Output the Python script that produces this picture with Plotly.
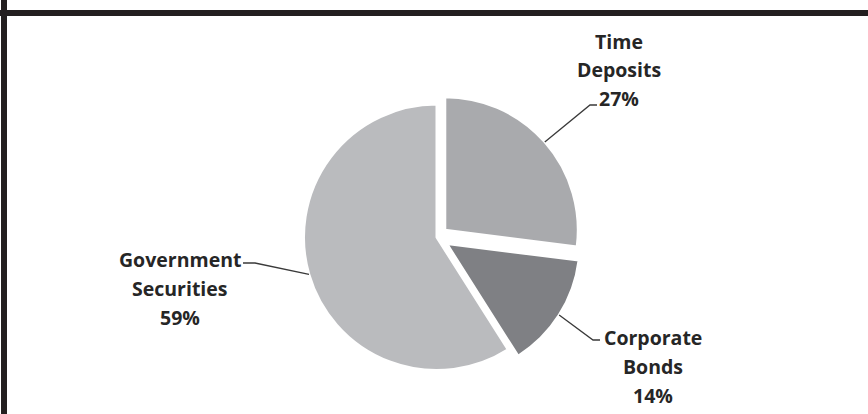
import math
import plotly.graph_objects as go

# ---- data ----
labels = ["Time Deposits", "Corporate Bonds", "Government Securities"]
label_lines = [["Time", "Deposits"], ["Corporate", "Bonds"], ["Government", "Securities"]]
values = [27, 14, 59]

# ---- style / layout constants ----
colors = ["#a9aaad", "#7f8084", "#babbbe"]
pulls = [0.083, 0.09, 0.0]
W, H = 868, 414
cx, cy, r = 436.75, 237.3, 133.0
label_mid = [(619, 70), (652.5, 366), (180, 288)]      # centre of middle text line (px)
elbows = [((590, 105), (597, 105)), ((593, 340), (600, 340)), ((255, 263), (243, 263))]
line_gap = 29
font = dict(family="Open Sans, sans-serif", size=19.5, color="#262626")

def px(x, y):
    return x / W, 1 - y / H

maxp = max(pulls)
box = r * (2 + 2 * maxp)
dom_x = [(cx - box / 2) / W, (cx + box / 2) / W]
dom_y = [1 - (cy + box / 2) / H, 1 - (cy - box / 2) / H]

fig = go.Figure(go.Pie(
    labels=labels, values=values, sort=False, direction="clockwise", rotation=0,
    pull=pulls, textinfo="none", hoverinfo="label+percent",
    marker=dict(colors=colors, line=dict(color="white", width=2.5)),
    domain=dict(x=dom_x, y=dom_y), showlegend=False,
))

shapes = []
annotations = []
total = sum(values)
cum = 0
for i, v in enumerate(values):
    theta = math.radians(360 * (cum + v / 2) / total)
    cum += v
    sx = cx + pulls[i] * r * math.sin(theta)
    sy = cy - pulls[i] * r * math.cos(theta)
    ax_, ay_ = sx + r * math.sin(theta), sy - r * math.cos(theta)
    (ex, ey), (tx, ty) = elbows[i]
    pts = [px(ax_, ay_), px(ex, ey), px(tx, ty)]
    path = "M {} {} L {} {} L {} {}".format(*[c for p in pts for c in p])
    shapes.append(dict(type="path", xref="paper", yref="paper", path=path,
                       line=dict(color="#3a3a3a", width=1.3)))
    lines = label_lines[i] + [f"{v}%"]
    mx, my = label_mid[i]
    for k, t in enumerate(lines):
        x, y = px(mx, my + (k - 1) * line_gap)
        annotations.append(dict(text=f"<b>{t}</b>", x=x, y=y, xref="paper", yref="paper",
                                xanchor="center", yanchor="middle", showarrow=False, font=font))

# frame: top bar and left bar
shapes.append(dict(type="rect", xref="paper", yref="paper", x0=0, x1=1,
                   y0=px(0, 16)[1], y1=px(0, 10)[1], fillcolor="#231f20", line=dict(width=0)))
shapes.append(dict(type="rect", xref="paper", yref="paper", x0=px(1, 0)[0], x1=px(7, 0)[0],
                   y0=0, y1=1, fillcolor="#231f20", line=dict(width=0)))

fig.update_layout(
    width=W, height=H, margin=dict(l=0, r=0, t=0, b=0),
    paper_bgcolor="white", plot_bgcolor="white",
    shapes=shapes, annotations=annotations,
)
fig.write_html("out.html")
